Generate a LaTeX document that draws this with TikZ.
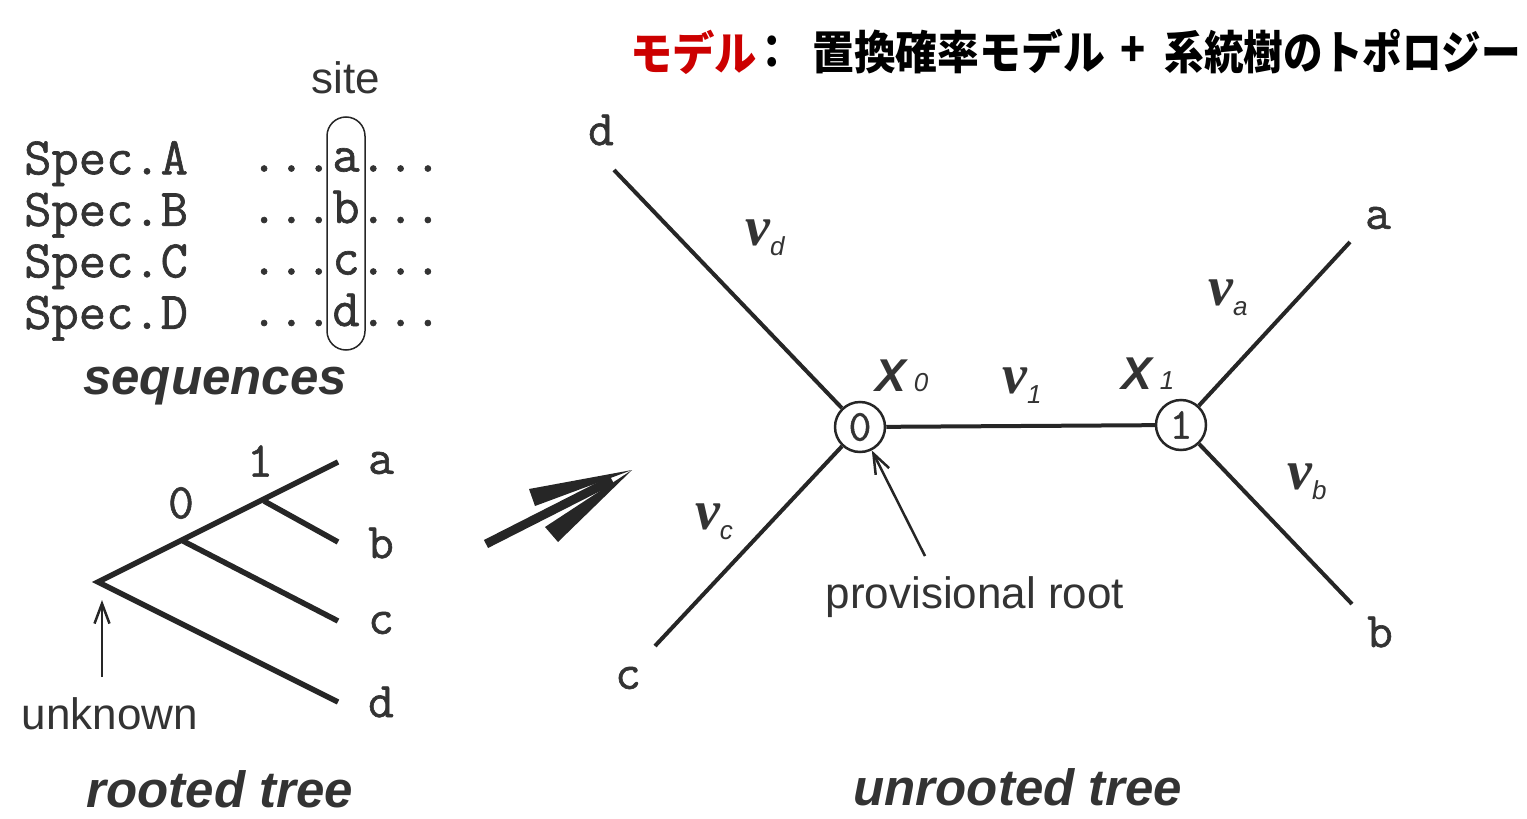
\documentclass[tikz,border=0pt]{standalone}
\usepackage{fontspec}
\setmainfont{Liberation Serif}
\setsansfont{Liberation Sans}
\setmonofont{Latin Modern Mono}[FakeBold=1.2]
\newfontfamily\jpfont{Noto Sans CJK JP}
\usetikzlibrary{arrows.meta}
\newcommand\brlen[1]{{\bfseries\itshape v}{\fontsize{26}{26}\selectfont\sffamily\itshape\raisebox{-10pt}{#1}}}
\newcommand\anc[1]{{\sffamily\bfseries\itshape X}\,{\fontsize{26}{26}\selectfont\sffamily\itshape #1}}
\newcommand\jp[2][0.9]{\scalebox{#1}[1]{#2}}

\begin{document}
\begin{tikzpicture}[x=1pt,y=-1pt,
  seq/.style={font=\ttfamily\bfseries\fontsize{53}{51.5}\selectfont, inner sep=0pt, text=black!80},
  leaf/.style={font=\ttfamily\bfseries\fontsize{50}{50}\selectfont, inner sep=0pt, text=black!80},
  lab/.style={font=\sffamily\fontsize{44}{44}\selectfont, inner sep=0pt, text=black!80},
  caption/.style={font=\sffamily\bfseries\itshape\fontsize{51}{51}\selectfont, inner sep=0pt, text=black!80},
  blen/.style={font=\fontsize{56}{56}\selectfont, inner sep=0pt, text=black!80},
  title/.style={font=\jpfont\bfseries\fontsize{46}{46}\selectfont, inner sep=0pt},
  branch/.style={line width=5.5pt, black!85},
  edge/.style={line width=4pt, black!85},
  vertex/.style={circle, draw=black!85, line width=2.5pt, minimum size=50pt, inner sep=0pt,
    fill=white, text=black!80, font=\ttfamily\bfseries\fontsize{44}{44}\selectfont},
  ptr/.style={line width=2.5pt, black!85, -{Straight Barb[length=20pt,width=15pt]}}]
  \useasboundingbox (0,0) rectangle (1527,819);

  % title
  \node[title, anchor=west, text=red!80!black] (tmodel) at (630,52) {\jp[0.92]{モデル}};
  \node[title] (tcolon) at (772,52) {\jp{：}};
  \node[title, anchor=west] (tsubst) at (812,52) {\jp[0.91]{置換確率モデル}};
  \node[title] (tplus) at (1133,52) {\jp{+}};
  \node[title, anchor=east] (ttopo) at (1521,52) {\jp[0.86]{系統樹のトポロジー}};

  % sequences
  \node[lab] (site) at (346,78) {site};
  \node[seq, anchor=north west, align=left] (spec) at (24,141)
    {Spec.A\\Spec.B\\Spec.C\\Spec.D};
  \node[seq, anchor=north, align=center] (column) at (346,148)
    {...a...\\...b...\\...c...\\...d...};
  \draw[line width=1.5pt, black!85, rounded corners=19pt] (327,117) rectangle (365,350);
  \node[caption] (seqcap) at (215,386) {sequences};

  % rooted tree
  \coordinate (rroot) at (98,582);
  \coordinate (r0) at (183,541);
  \coordinate (r1) at (264,501);
  \coordinate (ra) at (338,462);
  \coordinate (rb) at (338,542);
  \coordinate (rc) at (338,621);
  \coordinate (rd) at (338,702);
  \draw[branch, line join=miter] (ra) -- (rroot) -- (rd);
  \draw[branch] (r1) -- (rb);
  \draw[branch] (r0) -- (rc);
  \node[leaf] (la) at (381,463) {a};
  \node[leaf] (lb) at (381,543) {b};
  \node[leaf] (lc) at (381,623) {c};
  \node[leaf] (ld) at (381,702) {d};
  \node[leaf] (n1) at (260,461) {1};
  \node[leaf] (n0) at (181,503) {0};
  \node[lab] (unknown) at (110,714) {unknown};
  \coordinate (utail) at (102,677);
  \draw[ptr] (utail) -- (102,600);
  \node[caption] (rcap) at (220,789) {rooted tree};

  % big arrow
  \coordinate (bigs) at (486,544);
  \coordinate (bigt) at (632,470);
  \draw[line width=9pt, black!85] (bigs) -- (612,480);
  \fill[black!85] (bigt) -- (529,489) -- (535,506) -- cycle;
  \fill[black!85] (bigt) -- (545,527) -- (558,542) -- cycle;

  % unrooted tree
  \node[vertex] (x0) at (860,427) {0};
  \node[vertex] (x1) at (1181,425) {1};
  \coordinate (ua) at (1350,242);
  \coordinate (ub) at (1352,604);
  \coordinate (uc) at (655,646);
  \coordinate (ud) at (614,170);
  \draw[edge] (x0) -- (x1);
  \draw[edge] (x0) -- (ud);
  \draw[edge] (x0) -- (uc);
  \draw[edge] (x1) -- (ua);
  \draw[edge] (x1) -- (ub);
  \node[leaf] (ta) at (1378,218) {a};
  \node[leaf] (tb) at (1380,632) {b};
  \node[leaf] (tc) at (628,678) {c};
  \node[leaf] (td) at (601,130) {d};
  \node[blen] (vd) at (765,238) {\brlen{d}};
  \node[blen] (va) at (1228,298) {\brlen{a}};
  \node[blen] (vb) at (1307,482) {\brlen{b}};
  \node[blen] (vc) at (714,522) {\brlen{c}};
  \node[blen] (v1) at (1022,386) {\brlen{1}};
  \node[blen, font=\fontsize{46}{46}\selectfont] (ax0) at (902,376) {\anc{0}};
  \node[blen, font=\fontsize{46}{46}\selectfont] (ax1) at (1148,374) {\anc{1}};
  \node[lab] (prov) at (975,597) {provisional root};
  \coordinate (ptail) at (925,556);
  \draw[ptr] (ptail) -- (x0);
  \node[caption] (ucap) at (1018,787) {unrooted tree};
\end{tikzpicture}
\end{document}
